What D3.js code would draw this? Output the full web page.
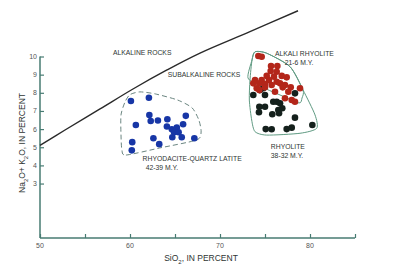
<!DOCTYPE html>
<html>
<head>
<meta charset="utf-8">
<script src="https://cdn.jsdelivr.net/npm/d3@7"></script>
<style>
  body { margin: 0; background: #fff; }
  svg { display: block; }
</style>
</head>
<body>
<svg id="chart"></svg>
<script>
// rhyodacite-quartz latite (42-39 m.y.) : [SiO2, Na2O+K2O]
const rhyodacite = [
  [60.1, 7.55], [62.1, 7.73], [62.15, 6.78], [62.3, 6.45], [63.1, 6.47],
  [64.15, 6.54], [66.2, 6.73], [60.65, 6.23], [64.1, 6.14], [64.65, 5.99],
  [65.2, 6.08], [65.9, 6.27], [64.9, 5.83], [65.4, 5.83], [64.7, 5.55],
  [65.75, 5.55], [62.6, 5.5], [67.15, 5.5], [63.25, 5.17], [60.25, 5.28],
  [60.2, 4.83]
];
// alkali rhyolite (21-6 m.y.)
const alkaliRhyolite = [
  [74.26, 10.03], [74.63, 9.99], [75.67, 9.48], [76.37, 9.48], [75.63, 9.2],
  [76.3, 9.16], [75.19, 8.93], [76.0, 8.89], [76.86, 8.93], [77.41, 8.85],
  [73.89, 8.7], [74.63, 8.7], [75.44, 8.7], [76.3, 8.61], [73.7, 8.52],
  [74.37, 8.52], [75.0, 8.48], [75.74, 8.43], [76.67, 8.52], [77.22, 8.43],
  [74.08, 8.25], [75.0, 8.3], [76.97, 8.3], [77.86, 8.3], [78.89, 8.25],
  [76.11, 8.06], [77.59, 8.06], [77.22, 7.7], [77.97, 7.6], [78.33, 7.51],
  [74.37, 8.15]
];
// rhyolite (38-32 m.y.)
const rhyolite = [
  [73.7, 7.88], [74.44, 8.15], [74.81, 8.25], [75.0, 7.88], [75.92, 7.51],
  [76.3, 7.51], [76.67, 7.42], [78.33, 7.97], [75.0, 7.23], [76.92, 7.15],
  [76.48, 7.05], [74.33, 6.93], [75.81, 6.82], [76.56, 6.87], [78.33, 6.63],
  [75.08, 6.0], [75.74, 5.99], [77.41, 6.0], [77.97, 6.08], [80.26, 6.23],
  [74.37, 7.23]
];
// alkaline / subalkaline boundary
const boundary = [
  [50, 5.1], [52.78, 5.95], [56.67, 7.11], [60.33, 8.21], [64.11, 9.26],
  [67.78, 10.19], [73.33, 11.37], [78.67, 12.52]
];
// field outlines
const rhyodaciteField = [
  [59.1, 4.85], [59.55, 4.57], [63.3, 4.96], [67.4, 5.4], [67.9, 5.84],
  [67.65, 6.5], [66.9, 7.17], [65.3, 7.6], [62.8, 7.94], [61.1, 8.05],
  [60.0, 7.9], [59.45, 7.5], [59.0, 6.78], [59.0, 5.68]
];
const rhyoliteField = [
  [73.89, 10.26], [75.19, 10.18], [77.78, 9.44], [79.22, 8.16], [80.56, 6.78],
  [80.74, 6.04], [78.89, 5.77], [75.19, 5.67], [73.89, 5.86], [73.52, 6.5],
  [73.26, 7.6], [73.33, 8.7], [73.56, 9.81]
];
const alkaliField = [
  [73.89, 10.26], [75.19, 10.18], [77.78, 9.44], [79.22, 8.16], [79.11, 7.71],
  [78.78, 7.44], [76.67, 7.88], [74.44, 8.37], [73.11, 8.82], [73.56, 9.81]
];
const xTicks = [50, 55, 60, 65, 70, 75, 80, 85];
const xTickLabels = [50, 60, 70, 80];
const yTicks = [3, 4, 5, 6, 7, 8, 9, 10];
const labels = [
  { text: "ALKALINE ROCKS", x: 58.1, y: 10.2 },
  { text: "SUBALKALINE ROCKS", x: 64.2, y: 8.99 },
  { text: "ALKALI RHYOLITE", x: 76.1, y: 10.14 },
  { text: "21-6 M.Y.", x: 77.2, y: 9.65 },
  { text: "RHYODACITE-QUARTZ LATITE", x: 61.4, y: 4.35 },
  { text: "42-39 M.Y.", x: 61.75, y: 3.86 },
  { text: "RHYOLITE", x: 75.65, y: 5.04 },
  { text: "38-32 M.Y.", x: 75.65, y: 4.55 }
];

const width = 400, height = 274;
const svg = d3.select("#chart").attr("width", width).attr("height", height);

const x = d3.scaleLinear().domain([50, 85]).range([40, 355]);
const y = d3.scaleLinear().domain([0, 10]).range([238, 56.5]);

const axisColor = "#477b72";
const textColor = "#2e3432";

// axes
svg.append("g")
  .attr("transform", "translate(0," + y(0) + ")")
  .call(d3.axisTop(x).tickValues(xTicks).tickSize(4).tickFormat(""));
svg.append("g")
  .attr("transform", "translate(" + x(50) + ",0)")
  .call(d3.axisRight(y).tickValues(yTicks).tickSize(4).tickFormat(""));

svg.selectAll(".domain").remove();
svg.append("line")
  .attr("x1", x(50)).attr("x2", x(85))
  .attr("y1", y(0)).attr("y2", y(0))
  .attr("stroke", axisColor).attr("stroke-width", 1.5);
svg.append("line")
  .attr("x1", x(50)).attr("x2", x(50))
  .attr("y1", y(0)).attr("y2", y(10))
  .attr("stroke", axisColor).attr("stroke-width", 1.5);
svg.selectAll(".tick line").attr("stroke", axisColor).attr("stroke-width", 1.2);

svg.append("g").selectAll("text")
  .data(xTickLabels)
  .enter().append("text")
  .attr("x", d => x(d))
  .attr("y", y(0) + 10)
  .attr("text-anchor", "middle")
  .text(d => d);

svg.append("g").selectAll("text")
  .data(yTicks)
  .enter().append("text")
  .attr("x", x(50) - 3)
  .attr("y", d => y(d))
  .attr("dy", "0.35em")
  .attr("text-anchor", "end")
  .text(d => d);

svg.selectAll("text")
  .attr("fill", "#555")
  .style("font", "7px 'Liberation Sans', Arial, sans-serif");

// axis titles
const xt = svg.append("text")
  .attr("x", 201)
  .attr("y", 261)
  .attr("text-anchor", "middle")
  .attr("fill", textColor)
  .style("font", "8.5px 'Liberation Sans', Arial, sans-serif");
xt.append("tspan").text("SiO");
xt.append("tspan").attr("dy", 2.5).style("font-size", "6px").text("2");
xt.append("tspan").attr("dy", -2.5).text(", IN PERCENT");

const yt = svg.append("text")
  .attr("transform", "translate(25,143) rotate(-90)")
  .attr("text-anchor", "middle")
  .attr("fill", textColor)
  .style("font", "8.5px 'Liberation Sans', Arial, sans-serif");
yt.append("tspan").text("Na");
yt.append("tspan").attr("dy", 2.5).style("font-size", "6px").text("2");
yt.append("tspan").attr("dy", -2.5).text("O+ K");
yt.append("tspan").attr("dy", 2.5).style("font-size", "6px").text("2");
yt.append("tspan").attr("dy", -2.5).text("O, IN PERCENT");

// boundary curve
const curve = d3.line()
  .x(d => x(d[0]))
  .y(d => y(d[1]))
  .curve(d3.curveCatmullRom);
svg.append("path")
  .attr("d", curve(boundary))
  .attr("fill", "none")
  .attr("stroke", "#2a2a2a")
  .attr("stroke-width", 1.4);

// field outlines
const closed = d3.line()
  .x(d => x(d[0]))
  .y(d => y(d[1]))
  .curve(d3.curveCardinalClosed.tension(0.3));
svg.append("path")
  .attr("d", closed(rhyodaciteField))
  .attr("fill", "none")
  .attr("stroke", "#6a8580")
  .attr("stroke-width", 1)
  .attr("stroke-dasharray", "5,3");
svg.append("path")
  .attr("d", closed(rhyoliteField))
  .attr("fill", "none")
  .attr("stroke", "#5f9a82")
  .attr("stroke-width", 1);
svg.append("path")
  .attr("d", closed(alkaliField))
  .attr("fill", "none")
  .attr("stroke", "#5f9a82")
  .attr("stroke-width", 1);

// points
function dots(data, color) {
  svg.append("g").selectAll("circle")
    .data(data)
    .enter().append("circle")
    .attr("cx", d => x(d[0]))
    .attr("cy", d => y(d[1]))
    .attr("r", 3.3)
    .attr("fill", color);
}
dots(rhyodacite, "#1736a6");
dots(rhyolite, "#14201c");
dots(alkaliRhyolite, "#b3261a");

// field labels
svg.append("g").selectAll("text")
  .data(labels)
  .enter().append("text")
  .attr("x", d => x(d.x))
  .attr("y", d => y(d.y))
  .attr("dy", "0.35em")
  .attr("fill", textColor)
  .style("font", "6.8px 'Liberation Sans', Arial, sans-serif")
  .text(d => d.text);
</script>
</body>
</html>
